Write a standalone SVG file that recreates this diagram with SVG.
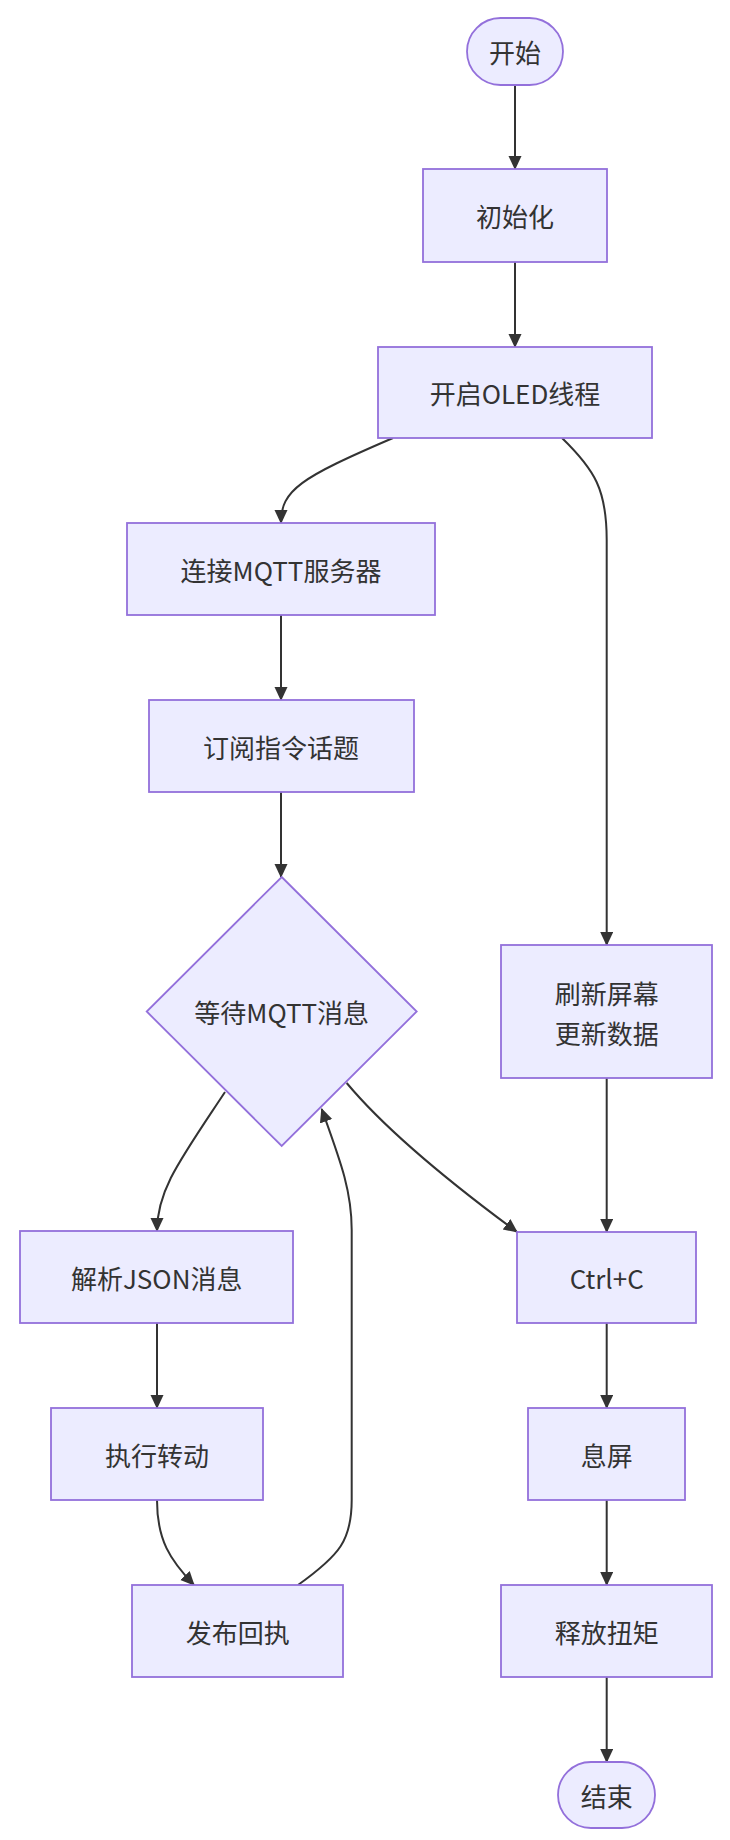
<svg xmlns="http://www.w3.org/2000/svg" width="730" height="1840" viewBox="0 0 730 1840">
<style>
.n{fill:#ECECFF;stroke:#9370DB;stroke-width:1.8}
.t{font-family:"Noto Sans CJK SC","Noto Sans",sans-serif;font-size:26px;fill:#333;text-anchor:middle;dominant-baseline:central}
.e{fill:none;stroke:#333;stroke-width:2}
</style>
<defs>
<marker id="ah" markerUnits="userSpaceOnUse" markerWidth="15" markerHeight="14" refX="13" refY="6.5" orient="auto">
<path d="M0,0 L14,6.5 L0,13 z" fill="#333"/>
</marker>
</defs>
<rect width="730" height="1840" fill="#fff"/>
<g id="edges">
<path class="e" marker-end="url(#ah)" d="M515,85 L515,169"/>
<path class="e" marker-end="url(#ah)" d="M515,262 L515,347"/>
<path class="e" marker-end="url(#ah)" d="M393,438 C300,478 281,490 281,523"/>
<path class="e" marker-end="url(#ah)" d="M562,438 C595,470 606.7,490 606.7,540 L606.7,945"/>
<path class="e" marker-end="url(#ah)" d="M281,615 L281,700"/>
<path class="e" marker-end="url(#ah)" d="M281,792 L281,877"/>
<path class="e" marker-end="url(#ah)" d="M225,1092 C180,1160 157,1190 157,1231"/>
<path class="e" marker-end="url(#ah)" d="M346.7,1083 C390,1135 460,1190 517,1232"/>
<path class="e" marker-end="url(#ah)" d="M606.7,1078 L606.7,1232"/>
<path class="e" marker-end="url(#ah)" d="M157,1323 L157,1408"/>
<path class="e" marker-end="url(#ah)" d="M157,1500 C157,1540 170,1560 194,1585"/>
<path class="e" marker-end="url(#ah)" d="M298,1585 C340,1555 351.7,1540 351.7,1500 L351.7,1230 C351.7,1190 340,1160 321.7,1109"/>
<path class="e" marker-end="url(#ah)" d="M606.7,1323 L606.7,1408"/>
<path class="e" marker-end="url(#ah)" d="M606.7,1500 L606.7,1585"/>
<path class="e" marker-end="url(#ah)" d="M606.7,1677 L606.7,1762"/>
</g>
<g id="start"><rect class="n" x="467" y="18" width="96" height="67" rx="33.5"/><text class="t" x="515" y="51.5">开始</text></g>
<g id="init"><rect class="n" x="423" y="169" width="184" height="93"/><text class="t" x="515" y="215.5">初始化</text></g>
<g id="oled"><rect class="n" x="378" y="347" width="274" height="91"/><text class="t" x="515" y="392.5">开启OLED线程</text></g>
<g id="connect"><rect class="n" x="127" y="523" width="308" height="92"/><text class="t" x="281" y="569">连接MQTT服务器</text></g>
<g id="subscribe"><rect class="n" x="149" y="700" width="265" height="92"/><text class="t" x="281" y="746">订阅指令话题</text></g>
<g id="wait"><polygon class="n" points="281.7,877 416.7,1011.5 281.7,1146 146.7,1011.5"/><text class="t" x="281.7" y="1011.5">等待MQTT消息</text></g>
<g id="refresh"><rect class="n" x="501" y="945" width="211" height="133"/><text class="t" x="606.7" y="992.5">刷新屏幕</text><text class="t" x="606.7" y="1032.5">更新数据</text></g>
<g id="parse"><rect class="n" x="20" y="1231" width="273" height="92"/><text class="t" x="156.7" y="1277">解析JSON消息</text></g>
<g id="ctrlc"><rect class="n" x="517" y="1232" width="179" height="91"/><text class="t" x="606.7" y="1277.5">Ctrl+C</text></g>
<g id="rotate"><rect class="n" x="51" y="1408" width="212" height="92"/><text class="t" x="157" y="1454">执行转动</text></g>
<g id="screenoff"><rect class="n" x="528" y="1408" width="157" height="92"/><text class="t" x="606.7" y="1454">息屏</text></g>
<g id="publish"><rect class="n" x="132" y="1585" width="211" height="92"/><text class="t" x="237.8" y="1631">发布回执</text></g>
<g id="release"><rect class="n" x="501" y="1585" width="211" height="92"/><text class="t" x="606.7" y="1631">释放扭矩</text></g>
<g id="end"><rect class="n" x="558" y="1762" width="97" height="66" rx="33"/><text class="t" x="606.7" y="1795">结束</text></g>
</svg>
